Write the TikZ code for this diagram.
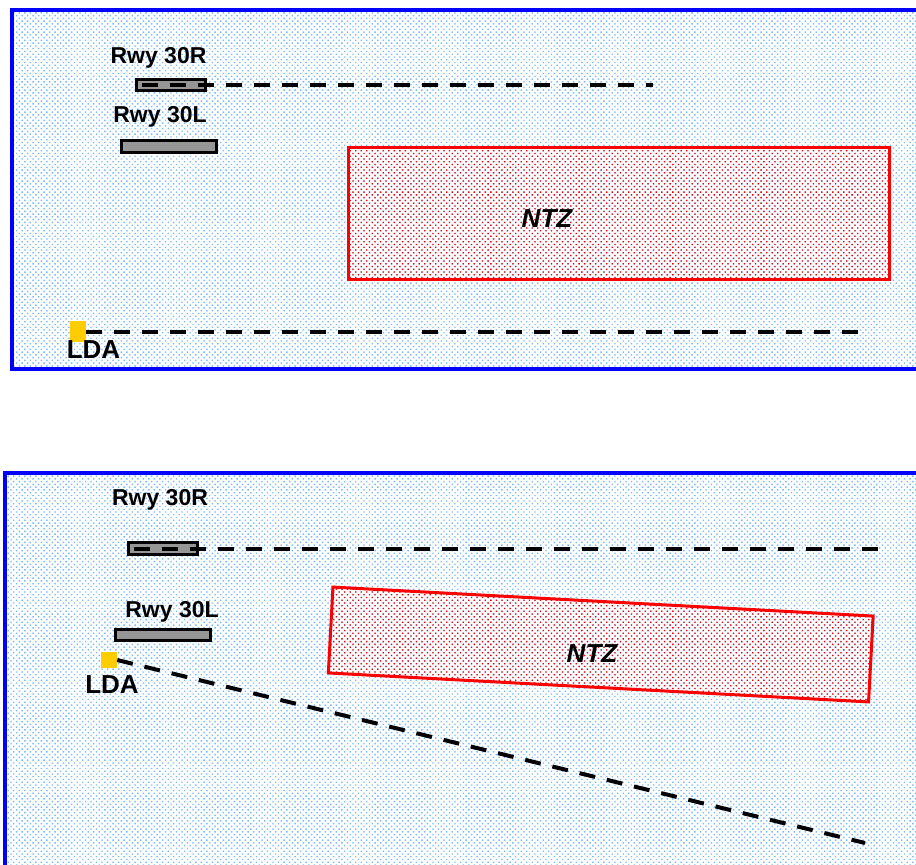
\documentclass[tikz,border=0pt]{standalone}
\usepackage{fontspec}
\setmainfont{Liberation Sans}
\usetikzlibrary{patterns.meta}

\definecolor{panelblue}{RGB}{0,0,255}
\definecolor{dotblue}{RGB}{120,185,255}
\definecolor{ntzred}{RGB}{255,0,0}
\definecolor{ldayellow}{RGB}{255,204,0}
\definecolor{rwygray}{RGB}{150,150,150}

\tikzset{
  panel/.style    = {draw = panelblue, line width = 4pt,
                     pattern = {Dots[distance = 3.9pt, angle = 45, radius = 1pt]},
                     pattern color = dotblue},
  ntz/.style      = {draw = ntzred, line width = 3pt, rectangle, inner sep = 0pt,
                     pattern = {Dots[distance = 3.9pt, angle = 45, radius = 0.9pt]},
                     pattern color = ntzred},
  rwy/.style      = {draw = black, fill = rwygray, line width = 3pt, rectangle,
                     inner sep = 0pt},
  lda/.style      = {fill = ldayellow, rectangle, inner sep = 0pt, minimum width = 16pt},
  rwylabel/.style = {anchor = base, inner sep = 0pt, font = \fontsize{23}{27}\selectfont\bfseries},
  ldalabel/.style = {anchor = base, inner sep = 0pt, font = \fontsize{26}{30}\selectfont\bfseries},
  ntzlabel/.style = {anchor = base, inner sep = 0pt, font = \fontsize{26}{30}\selectfont\bfseries\itshape},
  course/.style   = {draw = black, line width = 4pt, dash pattern = on 16pt off 12pt}
}

\begin{document}
\begin{tikzpicture}[x = 1pt, y = -1pt]
  \clip (0, 0) rectangle (916, 865);

  % panels
  \draw[panel] (12, 10)  rectangle (940, 369);
  \draw[panel] (5, 473)  rectangle (940, 900);

  % upper picture: parallel approach
  \node[ntz, minimum width = 541pt, minimum height = 132pt] at (618.5, 213) (ntzA) {};
  \node[ntzlabel] at (547, 227) (ntzAtext) {NTZ};

  \node[rwy, minimum width = 69pt, minimum height = 11pt] at (170.5, 84.5) (rwyRa) {};
  \node[rwy, minimum width = 95pt, minimum height = 12pt] at (168.5, 146)  (rwyLa) {};
  \node[rwylabel] at (158.5, 63)  (rwyRatext) {Rwy 30R};
  \node[rwylabel] at (160, 122)   (rwyLatext) {Rwy 30L};

  \node[lda, minimum height = 21pt] at (77.5, 331) (ldaA) {};
  \node[ldalabel] at (93.5, 358) (ldaAtext) {LDA};

  \coordinate (endRa) at (653, 84.5);
  \coordinate (endLa) at (860, 331.5);
  \draw[course] ([xshift = 7pt]rwyRa.west) -- (endRa);
  \draw[course] (ldaA.east |- 0, 331.5) -- (endLa);

  % lower picture: offset approach
  \node[ntz, minimum width = 541pt, minimum height = 86pt, rotate = -3.07] at (600.75, 644.5) (ntzB) {};
  \node[ntzlabel] at (592, 662) (ntzBtext) {NTZ};

  \node[rwy, minimum width = 69pt, minimum height = 12pt] at (162.5, 548.5) (rwyRb) {};
  \node[rwy, minimum width = 95pt, minimum height = 11pt] at (162.5, 634.5) (rwyLb) {};
  \node[rwylabel] at (160, 505) (rwyRbtext) {Rwy 30R};
  \node[rwylabel] at (172, 617) (rwyLbtext) {Rwy 30L};

  \node[lda, minimum height = 16pt] at (109, 660) (ldaB) {};
  \node[ldalabel] at (112, 693) (ldaBtext) {LDA};

  \coordinate (endRb) at (880, 548.5);
  \coordinate (endLb) at (865, 843);
  \draw[course] ([xshift = 7pt]rwyRb.west) -- (endRb);
  \draw[course] (ldaB.east) -- (endLb);
\end{tikzpicture}
\end{document}
